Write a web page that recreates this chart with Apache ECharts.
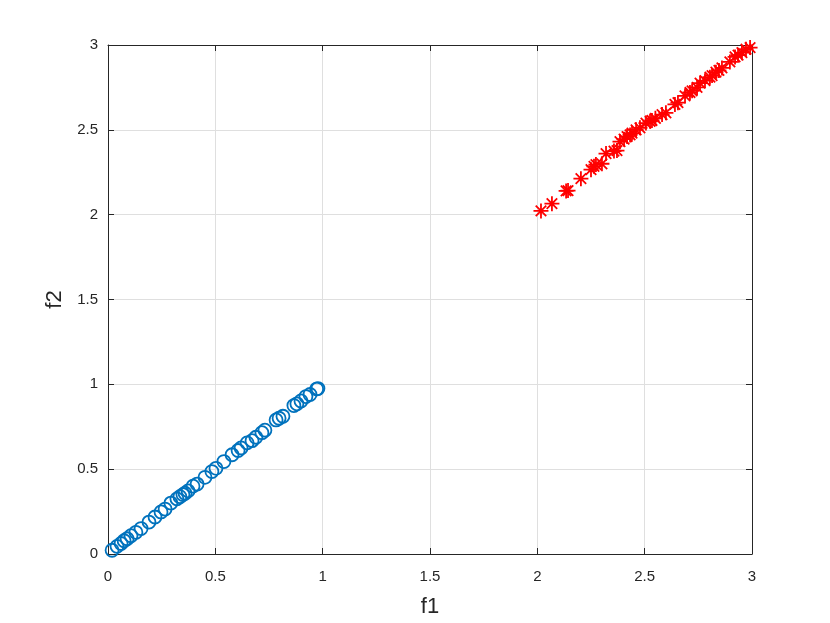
<!DOCTYPE html>
<html>
<head>
<meta charset="utf-8">
<script src="https://cdn.jsdelivr.net/npm/echarts@6/dist/echarts.min.js"></script>
<style>
html,body{margin:0;padding:0;background:#fff;}
#chart{width:830px;height:623px;}
</style>
</head>
<body>
<div id="chart"></div>
<script>
// Blue circles (f1, f2)
const blueF1 = [0.019,0.042,0.061,0.075,0.089,0.107,0.130,0.154,0.191,0.219,0.247,0.266,0.293,0.321,0.335,0.349,0.359,0.373,0.396,0.415,0.452,0.484,0.503,0.540,0.578,0.606,0.620,0.648,0.671,0.689,0.717,0.731,0.783,0.797,0.815,0.866,0.880,0.899,0.922,0.941,0.972,0.978];
const blueF2 = [0.022,0.045,0.062,0.078,0.090,0.108,0.128,0.150,0.188,0.218,0.248,0.265,0.300,0.325,0.338,0.350,0.358,0.372,0.400,0.412,0.452,0.486,0.505,0.545,0.585,0.610,0.625,0.655,0.668,0.688,0.715,0.730,0.790,0.800,0.812,0.875,0.885,0.902,0.928,0.940,0.972,0.975];
// Red stars (f1, f2)
const redF1 = [2.017,2.068,2.134,2.143,2.203,2.250,2.264,2.273,2.301,2.320,2.357,2.371,2.385,2.404,2.418,2.432,2.441,2.460,2.478,2.506,2.525,2.534,2.550,2.581,2.599,2.641,2.655,2.688,2.711,2.721,2.744,2.758,2.781,2.804,2.814,2.832,2.846,2.860,2.897,2.921,2.935,2.953,2.972,2.991];
const redF2 = [2.022,2.065,2.140,2.142,2.212,2.265,2.285,2.295,2.300,2.360,2.375,2.378,2.430,2.445,2.460,2.470,2.480,2.500,2.512,2.540,2.550,2.555,2.568,2.590,2.600,2.650,2.660,2.700,2.720,2.730,2.750,2.775,2.790,2.810,2.820,2.840,2.850,2.865,2.900,2.930,2.940,2.955,2.975,2.985];
const xTicks = [0,0.5,1,1.5,2,2.5,3];
const yTicks = [0,0.5,1,1.5,2,2.5,3];

const bluePts = blueF1.map((v,i)=>[v, blueF2[i]]);
const redPts = redF1.map((v,i)=>[v, redF2[i]]);

const txt = '#262626';
const font = 'Liberation Sans, Arial, sans-serif';
function fmt(v){ return String(v); }
const tick = {show:true,inside:true,length:6,lineStyle:{color:txt,width:1}};
const line = {show:true,onZero:false,lineStyle:{color:txt,width:1}};

const chart = echarts.init(document.getElementById('chart'));
chart.setOption({
  animation:false,
  backgroundColor:'#fff',
  grid:{left:108,right:78,top:45,bottom:68},
  xAxis:[{
    type:'value',min:xTicks[0],max:xTicks[xTicks.length-1],interval:0.5,
    name:'f1',nameLocation:'middle',nameGap:42,
    nameTextStyle:{fontSize:22,color:txt,fontFamily:font},
    axisLine:line,axisTick:tick,
    axisLabel:{color:txt,fontSize:15,fontFamily:font,margin:15,formatter:fmt},
    splitLine:{show:true,lineStyle:{color:'#dfdfdf',width:1}}
  },{
    type:'value',position:'top',min:xTicks[0],max:xTicks[xTicks.length-1],interval:0.5,
    axisLine:line,axisTick:tick,
    axisLabel:{show:false},splitLine:{show:false}
  }],
  yAxis:[{
    type:'value',min:yTicks[0],max:yTicks[yTicks.length-1],interval:0.5,
    name:'f2',nameLocation:'middle',nameGap:38,
    nameTextStyle:{fontSize:22,color:txt,fontFamily:font},
    axisLine:line,axisTick:tick,
    axisLabel:{color:txt,fontSize:15,fontFamily:font,margin:10,formatter:fmt},
    splitLine:{show:true,lineStyle:{color:'#dfdfdf',width:1}}
  },{
    type:'value',position:'right',min:yTicks[0],max:yTicks[yTicks.length-1],interval:0.5,
    axisLine:line,axisTick:tick,
    axisLabel:{show:false},splitLine:{show:false}
  }],
  series:[{
    type:'scatter',data:bluePts,symbol:'circle',symbolSize:13,
    itemStyle:{color:'rgba(0,0,0,0)',borderColor:'#0072BD',borderWidth:1.8,opacity:1},
    clip:false
  },{
    type:'scatter',data:redPts,
    symbol:'path://M0,-10L0,10M-10,0L10,0M-7,-7L7,7M-7,7L7,-7',
    symbolSize:15,
    itemStyle:{color:'rgba(0,0,0,0)',borderColor:'#FF0000',borderWidth:1.8,opacity:1},
    clip:false
  }]
});
</script>
</body>
</html>
